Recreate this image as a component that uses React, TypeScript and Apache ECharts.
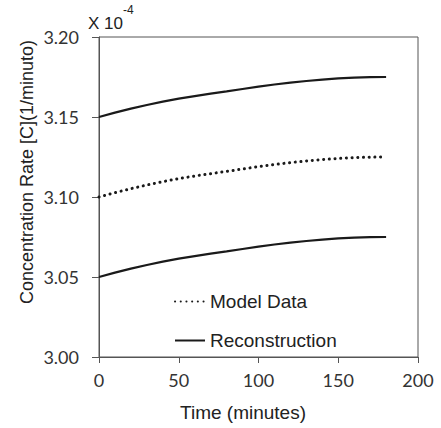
import React, { useEffect, useRef } from "react";
import * as echarts from "echarts";

const times = [0, 10, 20, 30, 40, 50, 60, 70, 80, 90, 100, 110, 120, 130, 140, 150, 160, 170, 180];
const modelData = [3.1, 3.1027, 3.1052, 3.1075, 3.1096, 3.1115, 3.1131, 3.1146, 3.116, 3.1175, 3.119, 3.1203, 3.1215, 3.1225, 3.1234, 3.1241, 3.1246, 3.1249, 3.125];
const reconUpper = [3.15, 3.1527, 3.1552, 3.1575, 3.1596, 3.1615, 3.1631, 3.1646, 3.166, 3.1675, 3.169, 3.1703, 3.1715, 3.1725, 3.1734, 3.1741, 3.1746, 3.1749, 3.175];
const reconLower = [3.05, 3.0527, 3.0552, 3.0575, 3.0596, 3.0615, 3.0631, 3.0646, 3.066, 3.0675, 3.069, 3.0703, 3.0715, 3.0725, 3.0734, 3.0741, 3.0746, 3.0749, 3.075];
const xTicks = [0, 50, 100, 150, 200];
const yTicks = [3.0, 3.05, 3.1, 3.15, 3.2];

const pair = (ys: number[]) => times.map((t, i) => [t, ys[i]]);

export default function App() {
  const ref = useRef<HTMLDivElement>(null);
  useEffect(() => {
    if (!ref.current) return;
    const chart = echarts.init(ref.current, undefined, { renderer: "svg" });
    const lineColor = "#1a1a1a";
    const axisColor = "#555";
    chart.setOption({
      animation: false,
      backgroundColor: "#fff",
      grid: { left: 99, right: 23, top: 37, bottom: 71, show: true, borderColor: axisColor, borderWidth: 1 },
      xAxis: {
        type: "value",
        min: xTicks[0],
        max: xTicks[xTicks.length - 1],
        interval: 50,
        axisLine: { lineStyle: { color: axisColor } },
        axisTick: { show: true, length: 6, lineStyle: { color: axisColor } },
        axisLabel: { fontFamily: "Lato", fontSize: 18, color: "#333", margin: 14 },
        splitLine: { show: false },
      },
      yAxis: {
        type: "value",
        min: yTicks[0],
        max: yTicks[yTicks.length - 1],
        interval: 0.05,
        axisLine: { show: true, lineStyle: { color: axisColor } },
        axisTick: { show: true, length: 7, lineStyle: { color: axisColor } },
        axisLabel: { fontFamily: "Lato", fontSize: 18, color: "#333", margin: 20, formatter: (v: number) => v.toFixed(2) },
        splitLine: { show: false },
      },
      legend: {
        orient: "vertical",
        left: 169,
        top: 287,
        itemWidth: 30,
        itemHeight: 10,
        itemGap: 20,
        itemStyle: { opacity: 0 },
        textStyle: { fontFamily: "Liberation Sans", fontSize: 19, color: "#222" },
        data: ["Model Data", "Reconstruction"],
      },
      graphic: [
        {
          type: "text",
          left: 88,
          top: 4,
          style: {
            text: "{a|X 10}{b|-4}",
            rich: {
              a: { fontFamily: "Liberation Sans", fontSize: 17, fill: "#222", lineHeight: 28, verticalAlign: "bottom" },
              b: { fontFamily: "Liberation Sans", fontSize: 12, fill: "#222", lineHeight: 28, verticalAlign: "top" },
            },
          },
        },
        {
          type: "text",
          x: 27,
          y: 172,
          rotation: Math.PI / 2,
          style: {
            text: "Concentration Rate [C](1/minuto)",
            fontFamily: "Liberation Sans",
            fontSize: 18,
            fill: "#222",
            align: "center",
            verticalAlign: "middle",
          },
        },
        {
          type: "text",
          x: 243,
          y: 412,
          style: {
            text: "Time (minutes)",
            fontFamily: "Liberation Sans",
            fontSize: 19,
            fill: "#222",
            align: "center",
            verticalAlign: "middle",
          },
        },
      ],
      series: [
        {
          name: "Model Data",
          type: "line",
          data: pair(modelData),
          symbol: "none",
          lineStyle: { color: lineColor, width: 3, type: [0.1, 5.6], cap: "round" },
          itemStyle: { color: lineColor },
        },
        {
          name: "Reconstruction",
          type: "line",
          data: pair(reconUpper),
          symbol: "none",
          lineStyle: { color: lineColor, width: 2.2 },
          itemStyle: { color: lineColor },
        },
        {
          name: "Reconstruction",
          type: "line",
          data: pair(reconLower),
          symbol: "none",
          lineStyle: { color: lineColor, width: 2.2 },
          itemStyle: { color: lineColor },
        },
      ],
    });
    return () => chart.dispose();
  }, []);
  return <div ref={ref} style={{ width: 441, height: 428, position: "absolute", left: 0, top: 0 }} />;
}
